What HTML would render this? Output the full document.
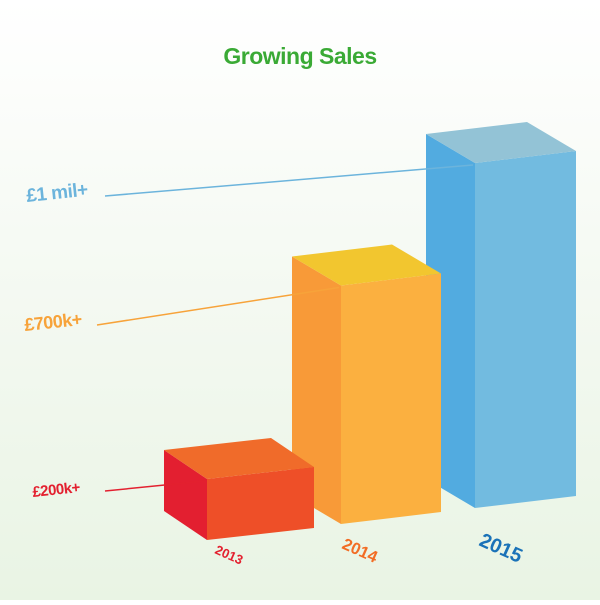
<!DOCTYPE html>
<html><head><meta charset="utf-8"><style>
html,body{margin:0;padding:0}
body{width:600px;height:600px;background:linear-gradient(#ffffff 0%,#f6faf4 40%,#e9f4e4 100%);font-family:"Liberation Sans",sans-serif;overflow:hidden}
</style></head><body>
<svg id="chart" width="600" height="600" xmlns="http://www.w3.org/2000/svg">
<text x="300" y="64" text-anchor="middle" font-size="23" font-weight="bold" fill="#3aaa35" letter-spacing="-0.5">Growing Sales</text>
</svg>
<script>
const years = ["2013","2014","2015"];
const values = [200,700,1000];
const valueLabels = ["£200k+","£700k+","£1 mil+"];
const svg = document.getElementById('chart');
const NS = 'http://www.w3.org/2000/svg';
const frontCols = ["#ee4f28","#fbb040","#72bbe0"];
const sideCols = ["#e31f30","#f89a38","#52abe0"];
const topCols = ["#f06b2a","#f2c62f","#93c3d6"];
const labelCols = ["#e3202f","#f7a33a","#6cb4dc"];
const yearCols = ["#e3202f","#f26d25","#1a72b8"];
function hScale(v){ return -10 + 0.355*v; }
function mk(tag, attrs){ const e=document.createElementNS(NS,tag); for(const k in attrs) e.setAttribute(k,attrs[k]); svg.appendChild(e); return e; }
const W=101, SL=-12, DY=-29;
const dxs = [-43,-49,-49];
const widths = [107,100,101];
const labelPos = [[33,497],[25,331],[27,202]];
const labelSize = [15,18,19];
const yearOff = [[7,13],[0,24],[3,37]];
const pts = a=>a.map(p=>p.join(',')).join(' ');
const geo = values.map((v,i)=>{
  const x0 = 207 + i*134, yb = 540 - 16*i;
  return {x0, yb, yt: yb - hScale(v)};
});
[2,1,0].forEach(i=>{
  const {x0,yb,yt} = geo[i]; const DX = dxs[i], W = widths[i];
  const side = mk('polygon',{points:pts([[x0+DX,yt+DY],[x0,yt],[x0,yb],[x0+DX,yb+DY]]),fill:sideCols[i]});
  
  
  const front = mk('polygon',{points:pts([[x0,yt],[x0+W,yt+SL],[x0+W,yb+SL],[x0,yb]]),fill:frontCols[i]});
  
  
  const top = mk('polygon',{points:pts([[x0+DX,yt+DY],[x0+DX+W,yt+DY+SL],[x0+W,yt+SL],[x0,yt]]),fill:topCols[i]});
  
  
});
values.forEach((v,i)=>{
  const {x0,yb,yt} = geo[i];
  const lp = labelPos[i];
  const line = mk('line',{x1:lp[0]+ (i==2?78:72), y1:lp[1]-6, x2:x0-2, y2:yt+2, stroke:labelCols[i], 'stroke-width':1.5});
  
  
  const t = mk('text',{x:lp[0],y:lp[1],fill:labelCols[i],'font-size':labelSize[i],'font-weight':'bold',transform:`rotate(-6 ${lp[0]} ${lp[1]})`,'letter-spacing':'-0.5'});
  t.textContent = valueLabels[i];
  
  
  const yx = x0+yearOff[i][0], yy = yb+yearOff[i][1];
  const yt2 = mk('text',{x:yx,y:yy,fill:yearCols[i],'font-size':13+i*3.5,'font-weight':'bold',transform:`rotate(24 ${yx} ${yy})`});
  yt2.textContent = years[i];
  
  
});
</script>
</body></html>
